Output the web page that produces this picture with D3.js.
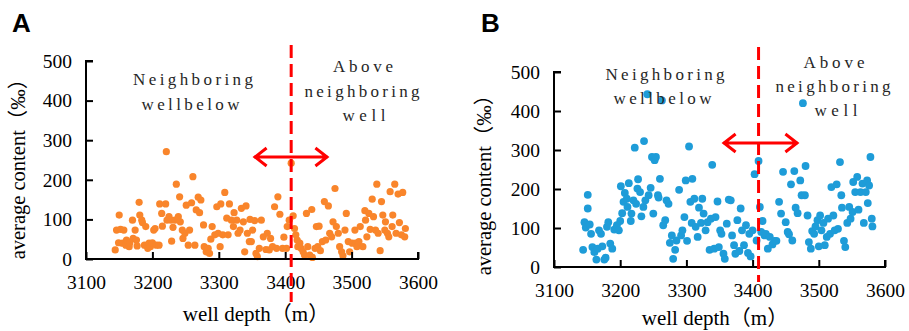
<!DOCTYPE html>
<html>
<head>
<meta charset="utf-8">
<script src="https://cdn.jsdelivr.net/npm/d3@7"></script>
<style>
  html, body { margin: 0; padding: 0; background: #fff; }
  svg { display: block; }
</style>
</head>
<body>
<svg id="chart" width="909" height="331"></svg>
<script>
// Shared axis ticks
const depthTicks = [3100, 3200, 3300, 3400, 3500, 3600];
const contentTicks = [0, 100, 200, 300, 400, 500];
const boundaryDepth = 3409;

// Panel A samples: well depth (m) and average content (‰)
const depthA = [3144,3146,3150,3149,3152,3155,3157,3160,3161,3165,3166,3170,3171,3174,3176,3177,3180,3181,3184,3185,
  3188,3190,3193,3195,3197,3200,3202,3204,3206,3210,3211,3214,3215,3220,3221,3222,3225,3228,3229,3231,
  3234,3236,3239,3241,3242,3245,3246,3249,3251,3254,3256,3259,3261,3264,3266,3269,3271,3273,3277,3278,
  3281,3284,3286,3288,3290,3294,3297,3299,3302,3303,3306,3309,3312,3314,3316,3319,3322,3323,3327,3329,
  3332,3334,3337,3339,3341,3343,3346,3347,3349,3351,3354,3356,3358,3361,3364,3367,3371,3373,3376,3378,
  3381,3384,3387,3389,3392,3396,3398,3402,3403,3406,3409,3412,3414,3416,3418,3419,3422,3424,3427,3429,
  3432,3434,3437,3440,3441,3445,3447,3449,3451,3453,3456,3459,3461,3465,3467,3470,3472,3475,3477,3480,
  3482,3485,3487,3490,3492,3495,3497,3501,3505,3506,3508,3511,3513,3517,3520,3521,3523,3526,3528,3531,
  3533,3536,3538,3540,3543,3545,3547,3550,3551,3554,3556,3558,3561,3562,3565,3567,3570,3572,3575,3577,
  3580,3581];
const contentA = [23,73,111,41,75,40,73,35,48,31,41,98,52,73,48,33,143,111,98,92,
  35,82,27,40,31,41,73,77,35,35,139,115,83,139,271,98,107,98,45,80,
  98,189,107,157,94,73,52,65,136,35,73,142,208,35,124,156,117,149,86,31,
  18,27,14,50,82,61,132,65,31,139,61,168,103,61,139,98,82,117,98,65,
  73,128,94,18,134,65,44,100,44,73,97,14,6,27,98,56,24,65,23,52,
  31,132,27,157,113,27,55,27,82,98,242,109,77,61,48,31,40,27,18,10,
  115,31,10,125,4,27,82,31,83,21,44,145,48,134,65,56,94,178,82,65,
  31,18,8,73,115,44,18,40,73,40,31,44,82,31,122,98,56,115,75,151,
  107,73,189,65,21,145,111,73,94,65,56,170,82,111,189,65,164,92,61,168,
  56,77];

// Panel B samples: well depth (m) and average content (‰)
const depthB = [3144,3146,3148,3151,3151,3154,3156,3158,3161,3164,3166,3168,3171,3173,3176,3178,3180,3182,3185,3188,
  3191,3195,3198,3200,3201,3203,3205,3207,3210,3211,3213,3216,3217,3220,3222,3224,3226,3227,3230,3232,
  3235,3236,3238,3241,3243,3246,3248,3250,3252,3254,3257,3258,3260,3263,3265,3268,3270,3273,3275,3278,
  3280,3283,3285,3289,3292,3294,3297,3299,3301,3304,3306,3308,3309,3312,3314,3317,3319,3322,3324,3326,
  3329,3332,3335,3337,3339,3342,3344,3347,3349,3351,3353,3356,3358,3361,3364,3367,3369,3372,3374,3377,
  3380,3382,3384,3387,3390,3393,3395,3397,3400,3403,3406,3409,3411,3413,3415,3418,3420,3423,3426,3430,
  3433,3436,3440,3443,3446,3450,3453,3455,3458,3460,3463,3465,3468,3472,3474,3476,3479,3480,3483,3485,
  3488,3490,3493,3495,3498,3500,3502,3504,3507,3509,3512,3514,3517,3519,3522,3524,3527,3529,3532,3534,
  3535,3538,3540,3543,3546,3548,3551,3552,3555,3558,3560,3563,3566,3568,3571,3573,3574,3576,3578,3580,
  3581];
const contentB = [44,115,101,185,150,109,85,51,38,19,47,94,85,53,19,24,103,115,60,47,
  96,107,94,118,207,138,167,190,175,154,215,118,137,171,306,162,201,225,192,130,
  154,323,171,443,184,203,282,137,274,282,184,178,226,427,107,120,171,162,62,81,
  21,44,68,198,81,94,128,222,67,309,167,113,226,175,103,77,152,113,175,137,
  94,115,44,124,262,47,128,168,51,94,85,34,21,111,173,171,81,56,34,120,
  41,150,94,56,107,36,85,27,94,238,68,272,154,90,118,81,85,47,77,58,
  67,67,167,137,244,115,90,84,212,68,246,152,138,222,184,420,184,259,132,64,
  47,92,85,104,120,53,132,94,113,56,77,124,85,205,132,94,212,98,269,184,
  152,67,51,113,154,124,141,218,192,231,147,192,214,113,192,222,164,209,282,124,
  104];

const svg = d3.select("#chart");
const serif = "'Liberation Serif', 'Times New Roman', 'Noto Sans CJK SC', serif";
const noteColor = "#262626";

function drawPanel(cfg) {
  const g = svg.append("g");
  const x = d3.scaleLinear().domain([3100, 3600]).range([cfg.left, cfg.right]);
  const y = d3.scaleLinear().domain([0, 500]).range([cfg.bottom, cfg.top]);

  // panel letter
  g.append("text")
    .attr("x", cfg.letterX).attr("y", 32)
    .style("font-family", "'Liberation Sans', Arial, sans-serif")
    .attr("font-weight", "bold").attr("font-size", 26)
    .text(cfg.letter);

  // points
  g.append("g").selectAll("circle")
    .data(cfg.depth.map((d, i) => [d, cfg.content[i]]))
    .join("circle")
    .attr("cx", d => x(d[0]))
    .attr("cy", d => y(d[1]))
    .attr("r", cfg.r)
    .attr("fill", cfg.color);

  // axes, ticks pointing into the plot
  const xAxis = g.append("g")
    .attr("transform", `translate(0,${cfg.bottom})`)
    .call(d3.axisBottom(x).tickValues(depthTicks).tickSize(-7).tickPadding(12).tickFormat(d3.format("d")));
  const yAxis = g.append("g")
    .attr("transform", `translate(${cfg.left},0)`)
    .call(d3.axisLeft(y).tickValues(contentTicks).tickSize(-7).tickPadding(14).tickFormat(d3.format("d")));
  [xAxis, yAxis].forEach(a => {
    a.attr("font-family", null).attr("font-size", null);
    a.select(".domain").attr("stroke", "#000").attr("stroke-width", 2);
    a.selectAll(".tick line").attr("stroke", "#000").attr("stroke-width", 2);
    a.selectAll(".tick text")
      .style("font-family", serif).style("font-size", "19.5px").attr("fill", "#000");
  });
  xAxis.select(".domain").attr("d", `M${cfg.left},-7V0H${cfg.right}V-7`);
  yAxis.select(".domain").attr("d", `M7,${cfg.top}H0V${cfg.bottom}H7`);
  xAxis.selectAll(".tick text").attr("dy", "0.9em");

  // axis titles
  g.append("text")
    .attr("x", cfg.xTitleX).attr("y", cfg.xTitleY)
    .attr("text-anchor", "middle")
    .style("font-family", serif).style("font-size", "21px")
    .text("well depth（m）");
  g.append("text")
    .attr("transform", `translate(${cfg.yTitleX},${cfg.yTitleY}) rotate(-90)`)
    .attr("text-anchor", "middle")
    .style("font-family", serif).style("font-size", "20.5px")
    .text("average content（‰）");

  // region labels
  cfg.notes.forEach(n => {
    g.append("text")
      .attr("x", n.x - n.len / 2).attr("y", n.y)
      .attr("textLength", n.len).attr("lengthAdjust", "spacing")
      .style("font-family", serif).style("font-size", "17px")
      .attr("fill", noteColor)
      .text(n.t);
  });

  // boundary line
  g.append("line")
    .attr("x1", x(boundaryDepth)).attr("x2", x(boundaryDepth))
    .attr("y1", cfg.dashTop).attr("y2", cfg.dashBottom)
    .attr("stroke", "#ff0000").attr("stroke-width", 3)
    .attr("stroke-dasharray", "13,6");

  // double-headed arrow across the boundary
  const ay = cfg.arrowY, ax1 = cfg.arrowX1, ax2 = cfg.arrowX2, h = 9;
  g.append("path")
    .attr("d", `M${ax1},${ay}H${ax2}M${ax1 + h * 1.4},${ay - h}L${ax1 + 1},${ay}L${ax1 + h * 1.4},${ay + h}` +
               `M${ax2 - h * 1.4},${ay - h}L${ax2 - 1},${ay}L${ax2 - h * 1.4},${ay + h}`)
    .attr("fill", "none").attr("stroke", "#ff0000").attr("stroke-width", 3)
    .attr("stroke-linejoin", "miter");
}

drawPanel({
  letter: "A", letterX: 12,
  left: 86, right: 418, top: 61, bottom: 259,
  depth: depthA, content: contentA, color: "#f9852b", r: 3.6,
  xTitleX: 256, xTitleY: 321, yTitleX: 25, yTitleY: 164,
  dashTop: 45, dashBottom: 302,
  arrowY: 157, arrowX1: 254, arrowX2: 328,
  notes: [
    { t: "Neighboring", x: 193, y: 85, len: 120 },
    { t: "wellbelow", x: 190.5, y: 110, len: 98 },
    { t: "Above", x: 363, y: 72, len: 60 },
    { t: "neighboring", x: 362, y: 97, len: 115 },
    { t: "well", x: 364, y: 121, len: 43 }
  ]
});

drawPanel({
  letter: "B", letterX: 481,
  left: 554, right: 885, top: 72, bottom: 267,
  depth: depthB, content: contentB, color: "#1e9cd8", r: 3.9,
  xTitleX: 715, xTitleY: 325, yTitleX: 491, yTitleY: 180,
  dashTop: 47, dashBottom: 282,
  arrowY: 143, arrowX1: 723, arrowX2: 798,
  notes: [
    { t: "Neighboring", x: 665, y: 80, len: 119 },
    { t: "wellbelow", x: 662.5, y: 104, len: 98 },
    { t: "Above", x: 834, y: 68, len: 61 },
    { t: "neighboring", x: 833, y: 92, len: 115 },
    { t: "well", x: 836, y: 116, len: 43 }
  ]
});
</script>
</body>
</html>
